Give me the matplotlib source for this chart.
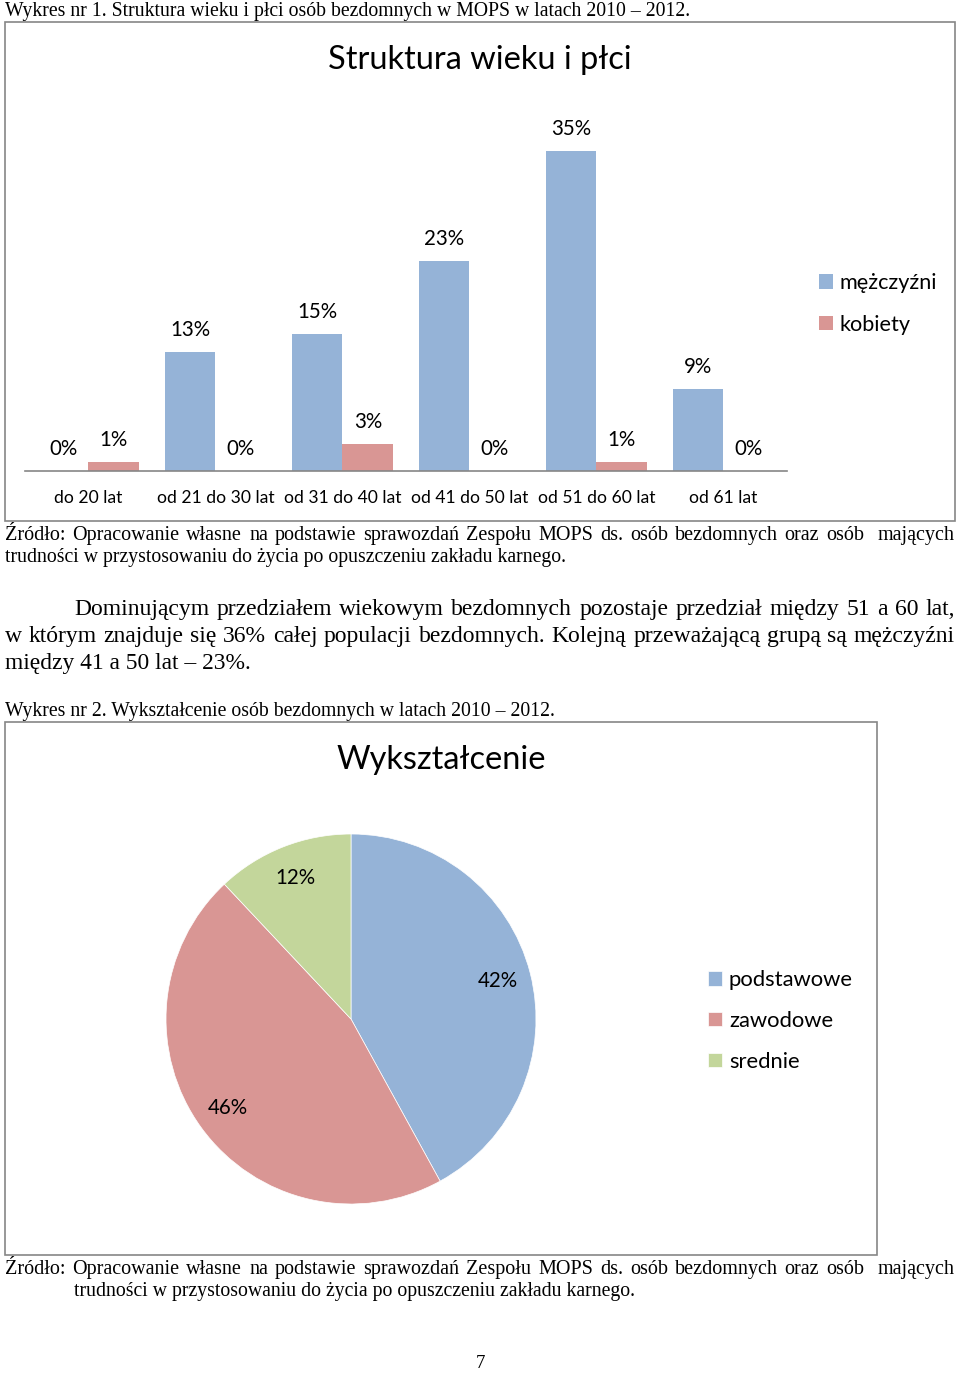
import matplotlib
matplotlib.use("Agg")
import matplotlib.pyplot as plt
from matplotlib.patches import Rectangle
from matplotlib.font_manager import FontProperties
import numpy as np

# ---------------- data ----------------
age_groups = ["do 20 lat", "od 21 do 30 lat", "od 31 do 40 lat", "od 41 do 50 lat",
              "od 51 do 60 lat", "od 61 lat"]
men = [0, 13, 15, 23, 35, 9]
women = [1, 0, 3, 0, 1, 0]
bar_series = ["mężczyźni", "kobiety"]

edu_labels = ["podstawowe", "zawodowe", "srednie"]
edu_values = [42, 46, 12]

title1 = "Struktura wieku i płci"
title2 = "Wykształcenie"

caption1 = "Wykres nr 1. Struktura wieku i płci osób bezdomnych w MOPS w latach 2010 – 2012."
caption2 = "Wykres nr 2. Wykształcenie osób bezdomnych w latach 2010 – 2012."
source_l1 = "Źródło: Opracowanie własne na podstawie sprawozdań Zespołu MOPS ds. osób bezdomnych oraz osób  mających"
source_l2 = "trudności w przystosowaniu do życia po opuszczeniu zakładu karnego."
para = ["Dominującym przedziałem wiekowym bezdomnych pozostaje przedział między 51 a 60 lat,",
        "w którym znajduje się 36% całej populacji bezdomnych. Kolejną przeważającą grupą są mężczyźni",
        "między 41 a 50 lat – 23%."]
page_no = "7"

BLUE = "#95B3D7"
RED = "#D99694"
GREEN = "#C3D69B"
GRAY = "#868686"
CH_FONT = "Lato"
TX_FONT = "Liberation Serif"

W, H = 960, 1373
fig = plt.figure(figsize=(W / 100, H / 100), dpi=100)
fig.patch.set_facecolor("white")
renderer = fig.canvas.get_renderer()


def frect(x0, y0, x1, y1):
    return [x0 / W, 1 - y1 / H, (x1 - x0) / W, (y1 - y0) / H]


def ftext(x, y, s, **kw):
    return fig.text(x / W, 1 - y / H, s, **kw)


def text_width(s, size):
    t = ftext(0, 0, s, fontsize=size, family=TX_FONT)
    w = t.get_window_extent(renderer).width
    t.remove()
    return w


def baseline_of(s, yc, size):
    """Baseline (in px from top) of line s when its box is centred at yc."""
    t = ftext(0, yc, s, fontsize=size, family=TX_FONT, va="center")
    bb = t.get_window_extent(renderer)
    t.remove()
    prop = FontProperties(family=TX_FONT, size=size)
    _, _, d = renderer.get_text_width_height_descent(s, prop, ismath=False)
    base_from_bottom = bb.y0 + d
    return round(H - base_from_bottom)


def fit_line(s, x0, x1, yc, size):
    w = text_width(s, size)
    if w > (x1 - x0):
        size = size * (x1 - x0) / w
    yb = baseline_of(s, yc, size)
    return ftext(x0, yb, s, fontsize=size, family=TX_FONT, va="baseline", ha="left", color="black")


def justify_line(s, x0, x1, yc, size):
    w = text_width(s, size)
    if w > (x1 - x0):
        size = size * (x1 - x0) / w * 0.995
    yb = baseline_of(s, yc, size)
    words = s.split(" ")
    widths = [text_width(wd, size) if wd else 0.0 for wd in words]
    gap = (x1 - x0 - sum(widths)) / (len(words) - 1)
    x = x0
    for wd, ww in zip(words, widths):
        if wd:
            ftext(x, yb, wd, fontsize=size, family=TX_FONT, va="baseline", ha="left", color="black")
        x += ww + gap


# ---------------- chart frames ----------------
for (x0, y0, x1, y1) in [(5, 22, 955, 521), (5, 722, 877, 1255)]:
    fig.patches.append(Rectangle((x0 / W, 1 - y1 / H), (x1 - x0) / W, (y1 - y0) / H,
                                 transform=fig.transFigure, fill=False,
                                 edgecolor=GRAY, linewidth=1.2))

# ---------------- bar chart ----------------
ax = fig.add_axes(frect(25, 119, 787, 471))
x = np.arange(len(age_groups))
bw = 0.4
b1 = ax.bar(x - bw / 2, men, bw, color=BLUE, label=bar_series[0])
b2 = ax.bar(x + bw / 2, women, bw, color=RED, label=bar_series[1])
for bars, vals in [(b1, men), (b2, women)]:
    for rect, v in zip(bars, vals):
        ax.annotate(f"{v}%", (rect.get_x() + rect.get_width() / 2, rect.get_height()),
                    xytext=(0, 22), textcoords="offset pixels", ha="center", va="center",
                    fontsize=14.8, family=CH_FONT, color="black")
ax.set_xlim(-0.5, len(age_groups) - 0.5)
ax.set_ylim(0, 38.5)
ax.set_xticks(x)
ax.set_xticklabels(age_groups, fontsize=12.6, family=CH_FONT)
ax.tick_params(axis="x", length=0, pad=14)
ax.set_yticks([])
for sp in ["top", "left", "right"]:
    ax.spines[sp].set_visible(False)
ax.spines["bottom"].set_color(GRAY)
ax.spines["bottom"].set_linewidth(1.2)
ax.patch.set_alpha(0)

ftext(480, 60, title1, fontsize=23.4, family=CH_FONT, ha="center", va="center")

leg1 = fig.legend(handles=[b1, b2], loc="upper left",
                  bbox_to_anchor=(819 / W, 1 - 273 / H),
                  frameon=False, prop={"family": CH_FONT, "size": 15.6},
                  handlelength=0.65, handleheight=0.65, handletextpad=0.3,
                  labelspacing=1.0, borderpad=0, borderaxespad=0)

# ---------------- pie chart ----------------
r = 185
pad = 1.03
axp = fig.add_axes(frect(351 - r * pad, 1019 - r * pad, 351 + r * pad, 1019 + r * pad))
wedges, texts, autotexts = axp.pie(edu_values, colors=[BLUE, RED, GREEN], startangle=90,
                                   counterclock=False, autopct="%d%%", pctdistance=0.82,
                                   radius=1, wedgeprops={"linewidth": 0.5, "edgecolor": "white"},
                                   textprops={"fontsize": 14.8, "family": CH_FONT, "color": "black"})
axp.set_xlim(-pad, pad)
axp.set_ylim(-pad, pad)
axp.set_aspect("equal")
axp.axis("off")

ftext(441, 760, title2, fontsize=23.4, family=CH_FONT, ha="center", va="center")

leg2 = fig.legend(handles=wedges, labels=edu_labels, loc="upper left",
                  bbox_to_anchor=(708 / W, 1 - 970 / H),
                  frameon=False, prop={"family": CH_FONT, "size": 15.8},
                  handlelength=0.65, handleheight=0.65, handletextpad=0.3,
                  labelspacing=0.95, borderpad=0, borderaxespad=0)

# ---------------- document text ----------------
fit_line(caption1, 5, 688, 11, 14.5)
justify_line(source_l1, 5, 955, 534, 14.5)
fit_line(source_l2, 5, 563, 557, 14.5)
justify_line(para[0], 74, 955, 609, 17)
justify_line(para[1], 5, 955, 636, 17)
fit_line(para[2], 5, 251, 663, 17)
fit_line(caption2, 5, 555, 711, 14.5)
justify_line(source_l1, 5, 955, 1268, 14.5)
fit_line(source_l2, 74, 633, 1291, 14.5)
ftext(480, 1364, page_no, fontsize=13.5, family=TX_FONT, ha="center", va="center")

fig.savefig("out.png", dpi=100)
